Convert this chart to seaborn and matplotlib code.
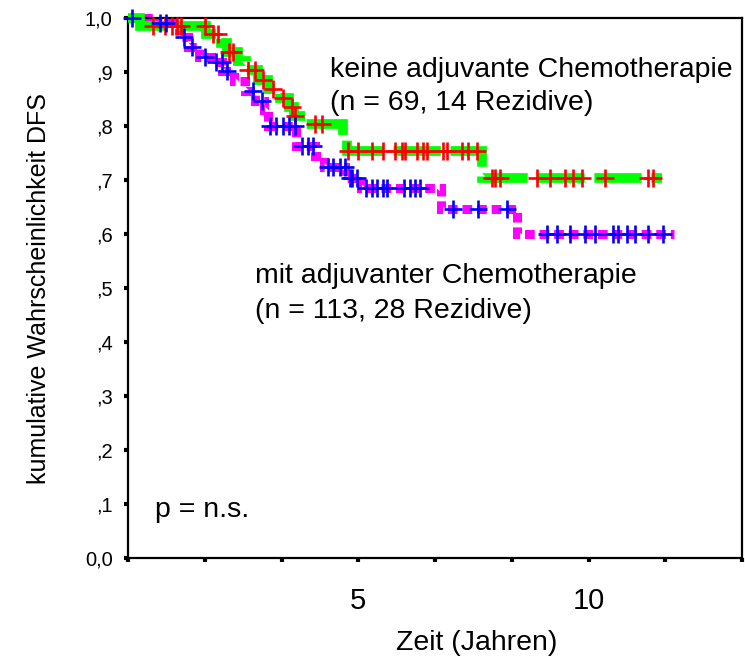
import numpy as np
import pandas as pd
import matplotlib
matplotlib.use("Agg")
import matplotlib.pyplot as plt
import seaborn as sns

# ---------------- data ----------------
# Gruppe "keine adjuvante Chemotherapie" (green line, red censor marks)
keine_event_t = [0.26, 1.70, 2.02, 2.15, 2.39, 2.56, 2.82, 3.05, 3.30, 3.50, 3.60, 3.87, 4.67, 4.76, 7.69]
keine_surv = [0.985, 0.970, 0.954, 0.937, 0.920, 0.903, 0.886, 0.869, 0.852, 0.835, 0.818, 0.804, 0.779, 0.754, 0.703]
keine_end = 11.60
keine_cens_t = [0.54, 0.80, 0.96, 1.06, 1.15, 1.67, 1.85, 1.95, 2.19, 2.28, 2.61, 2.76, 2.93,
                3.15, 3.37, 3.56, 3.63, 4.06, 4.21, 4.78, 5.00, 5.30, 5.54, 5.80, 5.95, 6.02,
                6.28, 6.41, 6.49, 6.84, 6.93, 7.25, 7.38, 7.58, 7.90, 7.97, 8.08, 8.88, 9.16,
                9.49, 9.66, 9.86, 10.36, 11.29, 11.40]

# Gruppe "mit adjuvanter Chemotherapie" (magenta line, blue censor marks)
mit_event_t = [0.55, 0.95, 1.10, 1.30, 1.55, 1.80, 2.05, 2.30, 2.55, 2.75, 2.95, 3.05, 3.65,
               4.05, 4.25, 4.72, 5.05, 6.80, 8.45]
mit_surv = [0.991, 0.982, 0.964, 0.946, 0.928, 0.919, 0.901, 0.883, 0.865, 0.847, 0.829, 0.800,
            0.763, 0.745, 0.725, 0.703, 0.685, 0.647, 0.600]
mit_end = 11.85
mit_cens_t = [0.09, 0.69, 0.83, 1.22, 1.39, 1.67, 1.91, 2.04, 2.15, 2.71, 2.91, 3.08, 3.21,
              3.37, 3.50, 3.63, 3.78, 3.91, 4.02, 4.34, 4.45, 4.60, 4.71, 4.82, 4.86, 4.97,
              5.17, 5.30, 5.41, 5.54, 5.62, 5.99, 6.12, 6.23, 6.34, 7.06, 7.60, 8.23, 9.10,
              9.32, 9.60, 9.92, 10.14, 10.53, 10.64, 10.84, 11.01, 11.29, 11.62]

x_tick_months = [0, 20, 40, 60, 80, 100, 120, 140, 160]
x_tick_labels = ["", "", "", "5", "", "", "10", "", ""]
y_ticks = [0.0, 0.1, 0.2, 0.3, 0.4, 0.5, 0.6, 0.7, 0.8, 0.9, 1.0]
y_tick_labels = ["0,0", ",1", ",2", ",3", ",4", ",5", ",6", ",7", ",8", ",9", "1,0"]

label_keine = ["keine adjuvante Chemotherapie", "(n = 69, 14 Rezidive)"]
label_mit = ["mit adjuvanter Chemotherapie", "(n = 113, 28 Rezidive)"]
label_p = "p = n.s."
x_label = "Zeit (Jahren)"
y_label = "kumulative Wahrscheinlichkeit DFS"

# ---------------- helpers ----------------
def step_frame(ev_t, ev_s, end):
    t = np.r_[0.0, ev_t, end]
    s = np.r_[1.0, ev_s, ev_s[-1]]
    return pd.DataFrame({"t": t, "s": s})


def cens_frame(ct, ev_t, ev_s):
    idx = np.searchsorted(np.asarray(ev_t), np.asarray(ct), side="right")
    s = np.r_[1.0, ev_s][idx]
    return pd.DataFrame({"t": ct, "s": s})


# ---------------- style ----------------
sns.set_style("ticks")
plt.rcParams["font.family"] = ["Liberation Sans", "DejaVu Sans"]
plt.rcParams["lines.scale_dashes"] = False
plt.rcParams["lines.dash_capstyle"] = "butt"
plt.rcParams["lines.dash_joinstyle"] = "miter"

fig = plt.figure(figsize=(7.45, 6.58), dpi=100)
fig.patch.set_facecolor("white")
ax = fig.add_axes([128 / 745, 100 / 658, 614 / 745, 540 / 658])
ax.set_facecolor("white")

mit_df = step_frame(mit_event_t, mit_surv, mit_end)
keine_df = step_frame(keine_event_t, keine_surv, keine_end)

sns.lineplot(data=mit_df, x="t", y="s", ax=ax, estimator=None, sort=False,
             drawstyle="steps-post", color="#ff00ff", linewidth=6.5,
             linestyle=(0, (7, 3.5)), clip_on=False, zorder=2)
sns.lineplot(data=keine_df, x="t", y="s", ax=ax, estimator=None, sort=False,
             drawstyle="steps-post", color="#00ff00", linewidth=7,
             linestyle=(0, (34, 7)), clip_on=False, zorder=3)

sns.scatterplot(data=cens_frame(keine_cens_t, keine_event_t, keine_surv), x="t", y="s",
                ax=ax, marker="+", s=150, color="#ff0000", linewidth=1.9,
                clip_on=False, zorder=4)
sns.scatterplot(data=cens_frame(mit_cens_t, mit_event_t, mit_surv), x="t", y="s",
                ax=ax, marker="+", s=150, color="#0000ff", linewidth=1.9,
                clip_on=False, zorder=5)

ax.set_xlim(0, x_tick_months[-1] / 12)
ax.set_ylim(0, 1.0)

ax.set_xticks(np.array(x_tick_months) / 12)
ax.set_xticklabels(x_tick_labels)
ax.set_yticks(y_ticks)
ax.set_yticklabels(y_tick_labels)
ax.tick_params(axis="x", direction="out", length=3, width=3, pad=18,
               labelsize=21, color="black", labelcolor="black", bottom=True)
ax.tick_params(axis="y", direction="out", length=3, width=3, pad=8,
               labelsize=14.5, color="black", labelcolor="black", left=True)

for sp in ax.spines.values():
    sp.set_visible(True)
    sp.set_color("black")
    sp.set_linewidth(1.6)

ax.set_xlabel(x_label, fontsize=20.5, color="black")
ax.xaxis.set_label_coords(0.568, -0.133)
ax.set_ylabel(y_label, fontsize=18, color="black")
ax.yaxis.set_label_coords(-0.125, 0.5)

ax.text(4.39, 0.891, label_keine[0], fontsize=20.5, ha="left", va="baseline", color="black")
ax.text(4.39, 0.830, label_keine[1], fontsize=20.5, ha="left", va="baseline", color="black")
ax.text(2.76, 0.509, label_mit[0], fontsize=20.5, ha="left", va="baseline", color="black")
ax.text(2.76, 0.444, label_mit[1], fontsize=20.5, ha="left", va="baseline", color="black")
ax.text(0.59, 0.076, label_p, fontsize=20.5, ha="left", va="baseline", color="black")

fig.savefig("out.png", dpi=100, facecolor="white")
